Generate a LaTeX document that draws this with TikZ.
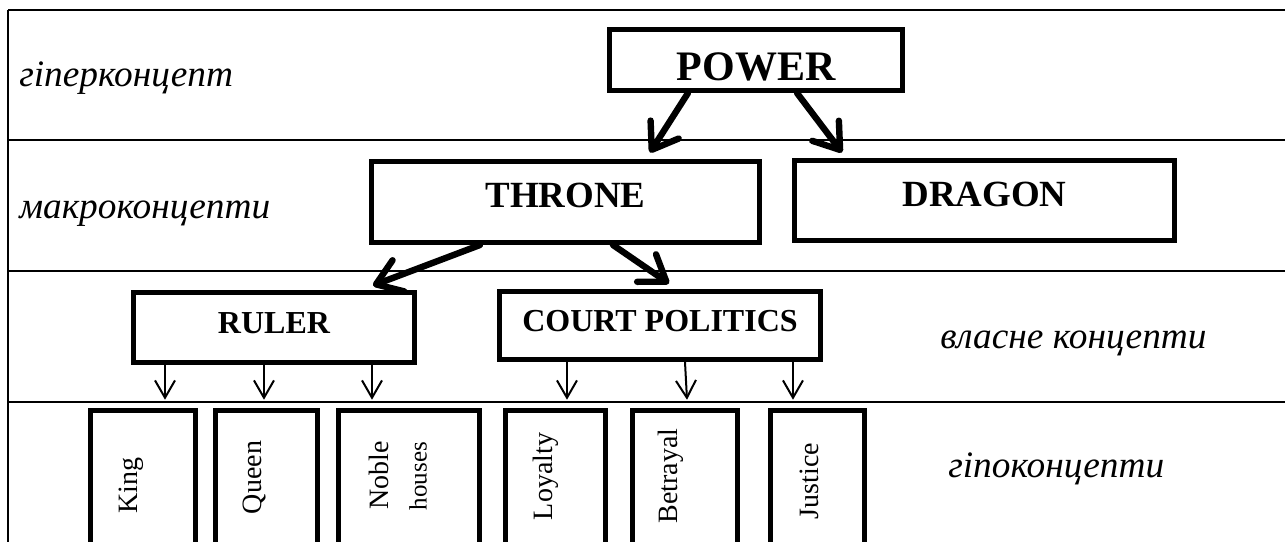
\documentclass[tikz,border=0pt]{standalone}
\usepackage{fontspec}
\setmainfont{Liberation Serif}
\usetikzlibrary{arrows.meta,calc}
\newcommand{\shiftup}[2]{\raisebox{#1}[\height][\depth]{#2}}
\begin{document}
\begin{tikzpicture}[x=0.75pt,y=-0.75pt,
  rule/.style={line width=1.7pt},
  bigbox/.style={draw,line width=3.8pt,inner sep=0pt,font=\bfseries},
  leafbox/.style={draw,line width=3.6pt,inner sep=0pt,minimum height=110.4pt},
  leaftext/.style={rotate=90,inner sep=0pt,font=\fontsize{21}{21}\selectfont},
  lvl/.style={anchor=base west,inner sep=0pt,font=\itshape\fontsize{28}{28}\selectfont},
  bigarr/.style={line width=4.8pt,line cap=round,-{Straight Barb[length=18pt,width=25pt,round]}},
  smallarr/.style={line width=1.5pt,-{Straight Barb[length=13pt,width=15pt]}}
]
\useasboundingbox (0,0) rectangle (1285,542);
\clip (0,0) rectangle (1285,542);
% table rules
\draw[rule] (8,10) -- (1290,10);
\draw[rule] (8,10) -- (8,560);
\draw[rule] (8,140) -- (1290,140);
\draw[rule] (8,271) -- (1290,271);
\draw[rule] (8,402) -- (1290,402);
% level labels
\node[lvl] (l1) at (19,87) {гіперконцепт};
\node[lvl] (l2) at (19,218) {макроконцепти};
\node[lvl] (l3) at (940,348) {власне концепти};
\node[lvl] (l4) at (948,477) {гіпоконцепти};
% main boxes
\node[bigbox,minimum width=219.7pt,minimum height=45.7pt] (power) at (756,60)
  {\fontsize{31.5}{31.5}\selectfont\shiftup{-5pt}{POWER}};
\node[bigbox,minimum width=291pt,minimum height=60.7pt] (throne) at (565.5,202)
  {\fontsize{27.7}{27.7}\selectfont\shiftup{5.2pt}{THRONE}};
\node[bigbox,minimum width=285pt,minimum height=60pt] (dragon) at (984.5,200.5)
  {\fontsize{27.7}{27.7}\selectfont\shiftup{4.8pt}{DRAGON}};
\node[bigbox,minimum width=210.7pt,minimum height=52.5pt] (ruler) at (274,327.5)
  {\fontsize{24}{24}\selectfont\shiftup{3pt}{RULER}};
\node[bigbox,minimum width=240.7pt,minimum height=51pt] (court) at (660,325.5)
  {\fontsize{24}{24}\selectfont\shiftup{3pt}{COURT POLITICS}};
% leaf boxes
\node[leafbox,minimum width=78.9pt] (king) at (143,484) {};
\node[leafbox,minimum width=76.6pt] (queen) at (266.5,484) {};
\node[leafbox,minimum width=105.9pt] (noble) at (409,484) {};
\node[leafbox,minimum width=75.1pt] (loyalty) at (555.5,484) {};
\node[leafbox,minimum width=78.9pt] (betrayal) at (685,484) {};
\node[leafbox,minimum width=70.6pt] (justice) at (817.5,484) {};
% leaf texts
\node[leaftext] (kingT) at (131.5,485.5) {King};
\node[leaftext] (queenT) at (254,477.5) {Queen};
\node[leaftext] (nobleT) at (379,475) {Noble};
\node[leaftext,font=\fontsize{18.75}{18.75}\selectfont] (housesT) at (418,476) {houses};
\node[leaftext] (loyaltyT) at (545.5,476.5) {Loyalty};
\node[leaftext] (betrayalT) at (671,476) {Betrayal};
\node[leaftext] (justiceT) at (809,481) {Justice};
% thick arrows
\draw[bigarr] ($(power.south)+(-68,0)$) -- ($(throne.north)+(84.5,-6.5)$);
\draw[bigarr] ($(power.south)+(41,0)$) -- ($(dragon.north)+(-142.5,-5.5)$);
\draw[bigarr] ($(throne.south)+(-85.5,0)$) -- ($(ruler.north)+(99,-4.5)$);
\draw[bigarr] ($(throne.south)+(47.5,0)$) -- ($(court.north)+(9,-5.5)$);
% thin arrows
\draw[smallarr] ([xshift=16.5pt]king.north |- ruler.south) -- ([xshift=16.5pt,yshift=6.2pt]king.north);
\draw[smallarr] ([xshift=-1.9pt]queen.north |- ruler.south) -- ([xshift=-1.9pt,yshift=6.2pt]queen.north);
\draw[smallarr] ([xshift=-27.75pt]noble.north |- ruler.south) -- ([xshift=-27.75pt,yshift=6.2pt]noble.north);
\draw[smallarr] ([xshift=8.6pt]loyalty.north |- court.south) -- ([xshift=8.6pt,yshift=6.2pt]loyalty.north);
\draw[smallarr] ([xshift=0pt]betrayal.north |- court.south) -- ([xshift=1.5pt,yshift=6.2pt]betrayal.north);
\draw[smallarr] ([xshift=-18.4pt]justice.north |- court.south) -- ([xshift=-18.4pt,yshift=6.2pt]justice.north);
\end{tikzpicture}
\end{document}
